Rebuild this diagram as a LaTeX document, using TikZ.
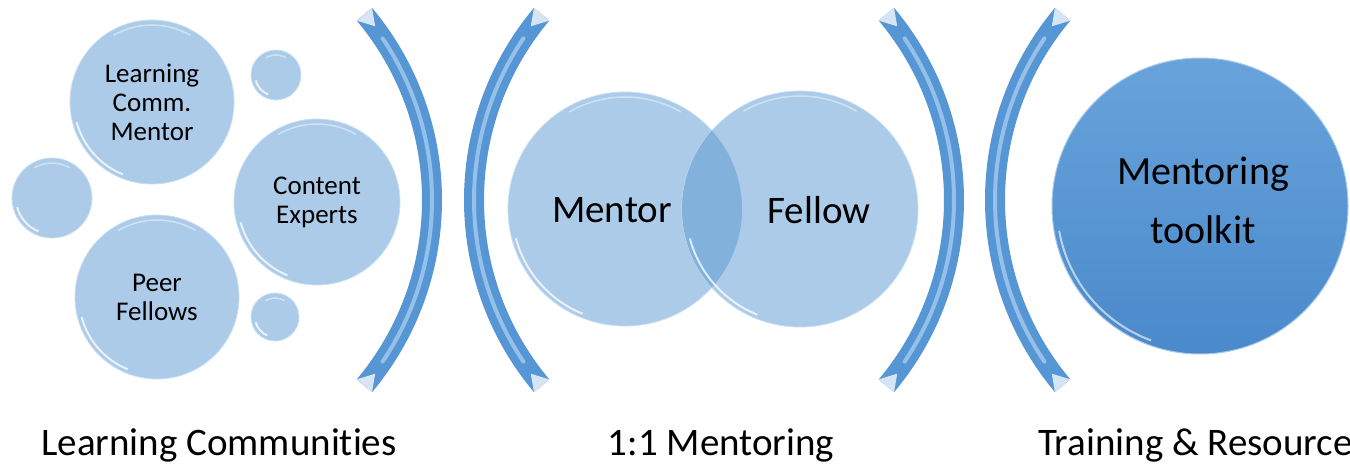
\documentclass[tikz,border=0pt]{standalone}
\usepackage{fontspec}
\setmainfont{Carlito}[Ligatures={NoCommon}]
\definecolor{bub}{HTML}{ABCBE9}
\definecolor{bubrim}{HTML}{C9DFF3}
\definecolor{ovl}{HTML}{82B1DC}
\definecolor{brk}{HTML}{5796D4}
\definecolor{brkL}{HTML}{B5D7F6}
\definecolor{tkT}{HTML}{68A3DB}
\definecolor{tkB}{HTML}{4A89CB}
\tikzset{
  bubble/.style={circle, fill=bub, draw=bubrim, line width=0.8, inner sep=0, align=center, font=\fontsize{27}{29}\selectfont},
  glossline/.style={white, opacity=0.75, line width=2},
  band/.style={brk, line width=20, line cap=butt},
  bandhi/.style={brkL, line width=4, opacity=0.65, line cap=round},
  bevel/.style={fill=white!75!brk, draw=none},
  caption/.style={anchor=base, inner sep=0, font=\fontsize{39}{44}\selectfont},
}
% gloss on a bubble: centre x, centre y, radius
\newcommand\bubgloss[3]{%
  \draw[glossline] ([shift={(#1,#2)}]112:#3-4) arc[start angle=112, end angle=165, radius=#3-4];
  \draw[white, opacity=0.45, line width=1.5] ([shift={(#1,#2)}]-120:#3-5) arc[start angle=-120, end angle=-60, radius=#3-5];
}
% bracket: centre x, start angle (band spans 80 degrees)
\newcommand\mybracket[2]{%
  \draw[band] ([shift={(#1,200)}]#2:289) arc[start angle=#2, end angle=#2+80, radius=289];
  \draw[bandhi] ([shift={(#1,200)}]#2+6:289) arc[start angle=#2+6, end angle=#2+74, radius=289];
  \fill[bevel] ([shift={(#1,200)}]#2:299) -- ([shift={(#1,200)}]#2:279) -- ([shift={(#1,200)}]#2+3.2:290) -- cycle;
  \fill[bevel] ([shift={(#1,200)}]#2+80:299) -- ([shift={(#1,200)}]#2+80:279) -- ([shift={(#1,200)}]#2+76.8:290) -- cycle;
}
\begin{document}
\begin{tikzpicture}[x=1pt, y=-1pt]
\useasboundingbox (0,0) rectangle (1350,466);
\clip (0,0) rectangle (1350,466);

% ---- Learning communities bubbles
\node[bubble, minimum size=164] (lcm) at (152,102) {Learning\\Comm.\\Mentor};
\node[bubble, minimum size=166] (ce) at (317,202) {Content\\Experts};
\node[bubble, minimum size=164] (pf) at (157,297) {Peer\\Fellows};
\node[bubble, minimum size=50] (s1) at (276,75) {};
\node[bubble, minimum size=80] (s2) at (52,198) {};
\node[bubble, minimum size=48] (s3) at (275,317) {};
\bubgloss{152}{102}{82}
\bubgloss{317}{202}{83}
\bubgloss{157}{297}{82}
\bubgloss{276}{75}{25}
\bubgloss{52}{198}{40}
\bubgloss{275}{317}{24}

% ---- brackets
\mybracket{143}{-40}
\mybracket{763}{140}
\mybracket{665}{-40}
\mybracket{1284}{140}
\coordinate (b1) at (432,200);
\coordinate (b2) at (474,200);
\coordinate (b3) at (954,200);
\coordinate (b4) at (995,200);

% ---- Venn
\node[circle, fill=bub, draw=bubrim, line width=0.8, minimum size=234, inner sep=0] (mc) at (625,209) {};
\node[circle, fill=bub, draw=bubrim, line width=0.8, minimum size=236, inner sep=0] (fc) at (800,209) {};
\begin{scope}
  \clip (625,209) circle[radius=117];
  \fill[ovl] (800,209) circle[radius=118];
\end{scope}
\bubgloss{625}{209}{117}
\bubgloss{800}{209}{118}
\node[inner sep=0, font=\fontsize{39}{44}\selectfont] (mt) at (612,210) {Mentor};
\node[inner sep=0, font=\fontsize{39}{44}\selectfont] (ft) at (819,210) {Fellow};

% ---- toolkit
\node[circle, top color=tkT, bottom color=tkB, draw=white!40!tkT, line width=1, minimum size=296, inner sep=0,
      align=center, font=\fontsize{40}{59}\selectfont] (tk) at (1200,206) {};
\node[inner sep=0, align=center, font=\fontsize{40}{59}\selectfont] (tkt) at (1203,200) {Mentoring\\toolkit};
\draw[white, opacity=0.6, line width=2] ([shift={(1200,206)}]110:143) arc[start angle=110, end angle=170, radius=143];

% ---- captions
\node[caption] (c1) at (219,455) {Learning Communities};
\node[caption] (c2) at (721,455) {1:1 Mentoring};
\node[caption, anchor=base west] (c3) at (1038,455) {Training \& Resources};
\end{tikzpicture}
\end{document}
